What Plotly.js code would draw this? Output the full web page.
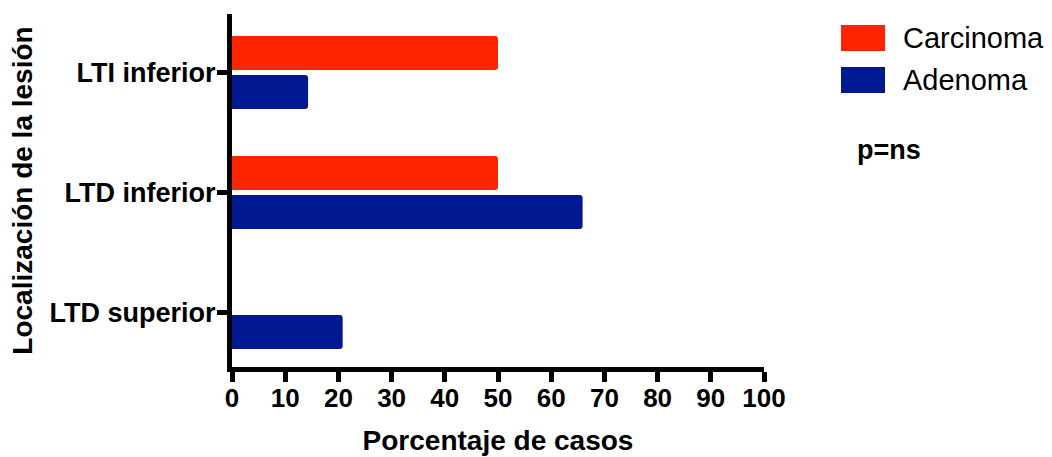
<!DOCTYPE html>
<html>
<head>
<meta charset="utf-8">
<script src="https://cdn.plot.ly/plotly-3.0.1.min.js"></script>
<style>
  html, body { margin: 0; padding: 0; background: #ffffff; }
  #chart { width: 1052px; height: 457px; }
</style>
</head>
<body>
<div id="chart"></div>
<script>
const categories = ["LTI inferior", "LTD inferior", "LTD superior"];
const seriesNames = ["Carcinoma", "Adenoma"];
const carcinoma = [50, 50, 0];
const adenoma = [14.3, 65.9, 20.8];
const seriesColors = ["rgb(255,36,0)", "rgb(0,25,147)"];
const xTickValues = [0, 10, 20, 30, 40, 50, 60, 70, 80, 90, 100];
const xTitle = "Porcentaje de casos";
const yTitle = "Localización de la lesión";
const noteText = "p=ns";

const FONT = "Liberation Sans, Arial, Helvetica, sans-serif";

const traces = [
  {
    type: "bar", orientation: "h", name: seriesNames[0],
    y: categories, x: carcinoma,
    marker: { color: seriesColors[0], line: { width: 0 } },
    hoverinfo: "x+y+name"
  },
  {
    type: "bar", orientation: "h", name: seriesNames[1],
    y: categories, x: adenoma,
    marker: { color: seriesColors[1], line: { width: 0 } },
    hoverinfo: "x+y+name"
  }
];

// plot area in pixels
const L = 232, R = 764, T = 14, B = 367;
const CAT_PX = 120;          // pixels per category
const CAT0_Y = 72.5;         // pixel centre of the first category
const yTopVal = (T - CAT0_Y) / CAT_PX;
const yBotVal = yTopVal + (B - T) / CAT_PX;

const px = v => (v - L) / (R - L);
const py = v => (B - v) / (B - T);

const shapes = [
  { type: "rect", xref: "paper", yref: "paper", x0: px(841), x1: px(885), y0: py(51), y1: py(25),
    fillcolor: seriesColors[0], line: { width: 0 } },
  { type: "rect", xref: "paper", yref: "paper", x0: px(841), x1: px(885), y0: py(93), y1: py(67),
    fillcolor: seriesColors[1], line: { width: 0 } }
];

const annotations = [
  { xref: "paper", yref: "paper", x: px(901), y: py(38), xanchor: "left", yanchor: "middle",
    text: seriesNames[0], showarrow: false, font: { family: FONT, size: 29, color: "#000" } },
  { xref: "paper", yref: "paper", x: px(901), y: py(80), xanchor: "left", yanchor: "middle",
    text: seriesNames[1], showarrow: false, font: { family: FONT, size: 29, color: "#000" } },
  { xref: "paper", yref: "paper", x: px(855), y: py(150), xanchor: "left", yanchor: "middle",
    text: noteText, showarrow: false, font: { family: FONT, size: 27, color: "#000", weight: "bold" } }
];

const layout = {
  width: 1052, height: 457,
  margin: { l: L, r: 1052 - R, t: T, b: 457 - B, pad: 0 },
  paper_bgcolor: "#ffffff", plot_bgcolor: "#ffffff",
  showlegend: false,
  barmode: "group",
  bargap: 0.35,
  bargroupgap: 0.128,
  barcornerradius: 3,
  font: { family: FONT, color: "#000" },
  xaxis: {
    range: [0, 100], tickvals: xTickValues, ticktext: xTickValues.map(String),
    showgrid: false, zeroline: false,
    showline: true, linecolor: "#000", linewidth: 5,
    ticks: "outside", ticklen: 10, tickwidth: 5, tickcolor: "#000",
    ticklabelstandoff: -6,
    tickfont: { family: FONT, size: 26, color: "#000", weight: "bold" },
    title: { text: xTitle, font: { family: FONT, size: 28, color: "#000", weight: "bold" }, standoff: 20 },
    fixedrange: true
  },
  yaxis: {
    type: "category", categoryorder: "array", categoryarray: categories,
    range: [yBotVal, yTopVal],
    showgrid: false, zeroline: false,
    showline: true, linecolor: "#000", linewidth: 5,
    ticks: "outside", ticklen: 10, tickwidth: 5, tickcolor: "#000",
    ticklabelstandoff: -4,
    tickfont: { family: FONT, size: 27, color: "#000", weight: "bold" },
    title: { text: yTitle, font: { family: FONT, size: 28, color: "#000", weight: "bold" }, standoff: 10 },
    fixedrange: true
  },
  shapes: shapes,
  annotations: annotations
};

Plotly.newPlot("chart", traces, layout, { displayModeBar: false, staticPlot: true });
</script>
</body>
</html>
